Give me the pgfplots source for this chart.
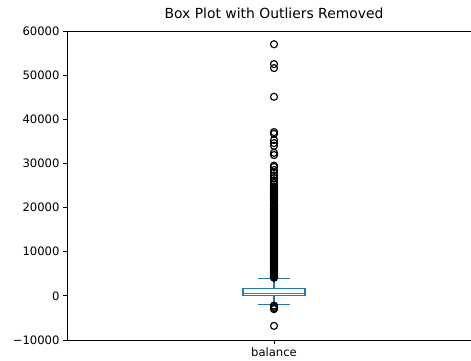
\documentclass[border=0pt]{standalone}
\usepackage{fontspec}
\setmainfont{DejaVu Sans}
\usepackage{pgfplots}
\pgfplotsset{compat=1.18}

\definecolor{mplblue}{HTML}{1F77B4}
\definecolor{mplgreen}{HTML}{2CA02C}

\begin{document}
\begin{tikzpicture}
\begin{axis}[
  name=ax,
  scale only axis,
  width=414pt, height=309pt,
  xmin=0.5, xmax=1.5,
  ymin=-10000, ymax=60000,
  xtick={1}, xticklabels={balance},
  ytick={-10000,0,10000,20000,30000,40000,50000,60000},
  yticklabels={−10000,0,10000,20000,30000,40000,50000,60000},
  scaled y ticks=false,
  xtick pos=bottom, ytick pos=left,
  tick align=outside,
  major tick length=4pt,
  every tick/.style={black, line width=0.93pt},
  axis line style={black, line width=0.93pt},
  tick label style={font=\fontsize{11.6}{13}\selectfont},
  title={Box Plot with Outliers Removed},
  title style={font=\fontsize{13.9}{16}\selectfont, at={(0.5,1)}, anchor=base, yshift=6pt},
  clip=false,
]
% box (Q1 to Q3)
\addplot[draw=mplblue, line width=1.16pt, mark=none] coordinates {
  (0.925,50) (1.075,50) (1.075,1700) (0.925,1700) (0.925,50)
} -- cycle;
% whiskers and caps
\addplot[draw=mplblue, line width=1.16pt, mark=none] coordinates {(1,1700) (1,4000)};
\addplot[draw=mplblue, line width=1.16pt, mark=none] coordinates {(0.9625,4000) (1.0375,4000)};
\addplot[draw=mplblue, line width=1.16pt, mark=none] coordinates {(1,50) (1,-1900)};
\addplot[draw=mplblue, line width=1.16pt, mark=none] coordinates {(0.9625,-1900) (1.0375,-1900)};
% median
\addplot[draw=mplgreen, line width=1.16pt, mark=none] coordinates {(0.925,550) (1.075,550)};
% fliers
\addplot[only marks, mark=o, mark size=3.5pt,
  mark options={draw=black, line width=1.16pt, fill=none}]
  table[row sep=\\, x index=0, y index=1] {
  1 -2200\\ 1 -2500\\ 1 -2800\\ 1 -3000\\ 1 -6800\\
  1 4100\\ 1 4300\\ 1 4500\\ 1 4700\\ 1 4900\\ 1 5100\\ 1 5300\\ 1 5500\\ 1 5700\\ 1 5900\\
  1 6100\\ 1 6300\\ 1 6500\\ 1 6700\\ 1 6900\\ 1 7100\\ 1 7300\\ 1 7500\\ 1 7700\\ 1 7900\\
  1 8100\\ 1 8300\\ 1 8500\\ 1 8700\\ 1 8900\\ 1 9100\\ 1 9300\\ 1 9500\\ 1 9700\\ 1 9900\\
  1 10100\\ 1 10300\\ 1 10500\\ 1 10700\\ 1 10900\\ 1 11100\\ 1 11300\\ 1 11500\\ 1 11700\\ 1 11900\\
  1 12100\\ 1 12300\\ 1 12500\\ 1 12700\\ 1 12900\\ 1 13100\\ 1 13300\\ 1 13500\\ 1 13700\\ 1 13900\\
  1 14100\\ 1 14300\\ 1 14500\\ 1 14700\\ 1 14900\\ 1 15100\\ 1 15300\\ 1 15500\\ 1 15700\\ 1 15900\\
  1 16100\\ 1 16300\\ 1 16500\\ 1 16900\\ 1 17100\\ 1 17300\\ 1 17500\\ 1 17700\\ 1 17900\\
  1 18100\\ 1 18300\\ 1 18500\\ 1 18700\\ 1 18900\\ 1 19100\\ 1 19300\\ 1 19500\\ 1 19700\\ 1 19900\\
  1 20100\\ 1 20300\\ 1 20500\\ 1 20700\\ 1 21300\\ 1 21500\\ 1 21700\\ 1 21900\\
  1 22100\\ 1 22300\\ 1 22500\\ 1 22700\\ 1 22900\\ 1 23100\\ 1 23300\\ 1 23600\\ 1 23900\\
  1 24200\\ 1 24500\\ 1 24800\\ 1 25200\\ 1 25600\\ 1 26100\\ 1 26700\\ 1 27300\\ 1 27900\\
  1 28500\\ 1 29200\\ 1 29500\\ 1 31900\\ 1 32400\\ 1 34000\\ 1 34600\\ 1 35300\\ 1 36700\\ 1 37100\\
  1 45100\\ 1 51600\\ 1 52500\\ 1 57000\\
};
\end{axis}
% crop the page to the figure area (the right spine falls outside it)
\pgfresetboundingbox
\path[use as bounding box]
  ([shift={(-67pt,-21pt)}]ax.south west) rectangle
  ([shift={(404pt,340pt)}]ax.south west);
\end{tikzpicture}
\end{document}
